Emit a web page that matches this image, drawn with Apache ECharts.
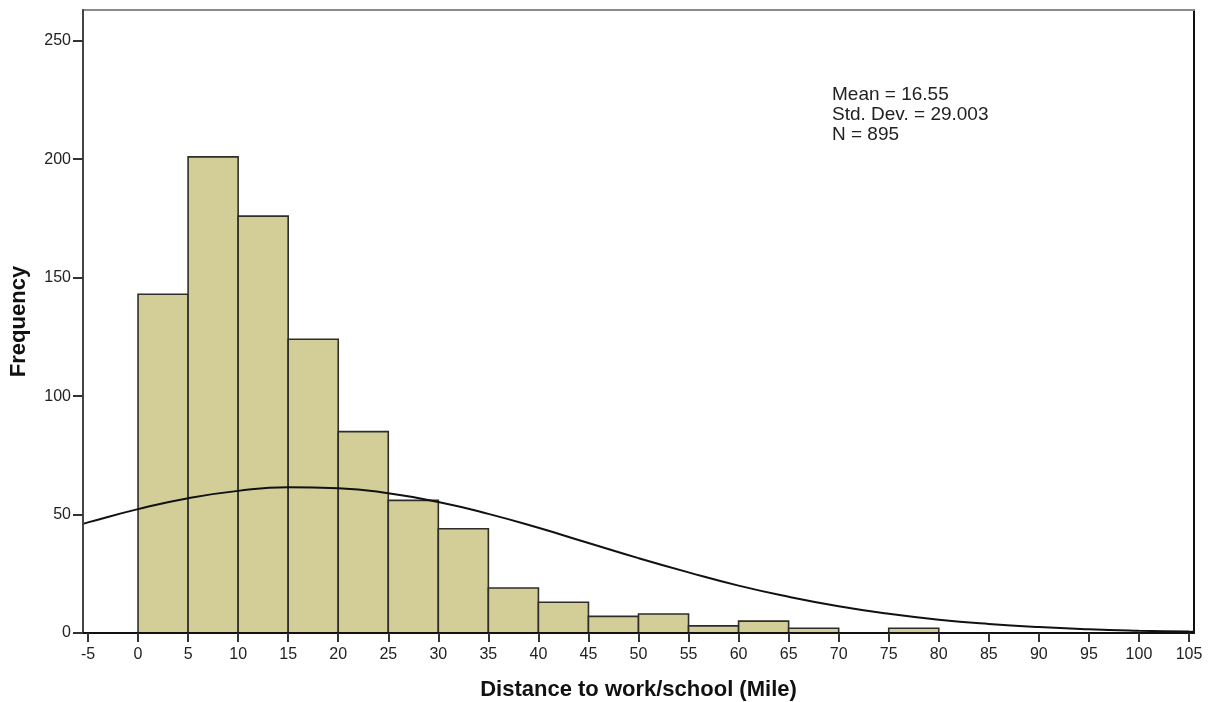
<!DOCTYPE html>
<html>
<head>
<meta charset="utf-8">
<title>Distance to work/school</title>
<script src="https://cdn.jsdelivr.net/npm/echarts@6/dist/echarts.min.js"></script>
<style>
  html, body { margin: 0; padding: 0; background: #fff; }
  #chart { width: 1208px; height: 702px; }
</style>
</head>
<body>
<div id="chart"></div>
<script>
// Histogram bins (5-mile width) and their frequencies
const binStarts = [0, 5, 10, 15, 20, 25, 30, 35, 40, 45, 50, 55, 60, 65, 70, 75];
const binWidth = 5;
const counts = [143, 201, 176, 124, 85, 56, 44, 19, 13, 7, 8, 3, 5, 2, 0, 2];

// Fitted normal curve, sampled along the distance axis
const curveX = [-5.5, -5, 0, 5, 10, 15, 20, 25, 30, 35, 40, 45, 50, 55, 60, 65, 70, 75, 80, 85, 90, 95, 100, 105, 105.5];
const curveY = [46.1, 46.7, 52.3, 56.9, 60.0, 61.5, 61.1, 59.0, 55.3, 50.3, 44.4, 38.0, 31.6, 25.6, 20.0, 15.3, 11.3, 8.1, 5.6, 3.8, 2.5, 1.6, 1.0, 0.6, 0.57];

// Axis ticks
const xTicks = [-5, 0, 5, 10, 15, 20, 25, 30, 35, 40, 45, 50, 55, 60, 65, 70, 75, 80, 85, 90, 95, 100, 105];
const yTicks = [0, 50, 100, 150, 200, 250];

// Summary statistics
const statLines = ['Mean = 16.55', 'Std. Dev. = 29.003', 'N = 895'];

const FONT = '"Liberation Sans", Arial, sans-serif';

const barData = binStarts.map((s, i) => [s, s + binWidth, counts[i]]);
const curveData = curveX.map((x, i) => [x, curveY[i]]);

const chart = echarts.init(document.getElementById('chart'), null, { renderer: 'canvas' });

chart.setOption({
  backgroundColor: '#ffffff',
  animation: false,
  grid: { left: 83, right: 14, top: 10, bottom: 69, containLabel: false, outerBoundsMode: 'none' },
  xAxis: [
    {
      type: 'value',
      min: -5.5,
      max: 105.5,
      name: 'Distance to work/school (Mile)',
      nameLocation: 'middle',
      nameGap: 46,
      nameTextStyle: { fontFamily: FONT, fontSize: 22, fontWeight: 'bold', color: '#111' },
      axisLine: { show: true, onZero: false, lineStyle: { color: '#111', width: 2 } },
      axisTick: { show: true, customValues: xTicks, length: 9, lineStyle: { color: '#333', width: 2 } },
      axisLabel: {
        customValues: xTicks,
        fontFamily: FONT, fontSize: 16, color: '#222', margin: 14
      },
      splitLine: { show: false },
      z: 5
    },
    {
      type: 'value',
      position: 'top',
      min: -5.5,
      max: 105.5,
      axisLine: { show: true, onZero: false, lineStyle: { color: '#8a8a8a', width: 2 } },
      axisTick: { show: false },
      axisLabel: { show: false },
      splitLine: { show: false }
    }
  ],
  yAxis: [
    {
      type: 'value',
      min: 0,
      max: 263,
      name: 'Frequency',
      nameLocation: 'middle',
      nameGap: 53,
      nameRotate: 90,
      nameTextStyle: { fontFamily: FONT, fontSize: 22, fontWeight: 'bold', color: '#111' },
      axisLine: { show: true, onZero: false, lineStyle: { color: '#444', width: 2 } },
      axisTick: { show: true, customValues: yTicks, length: 10, lineStyle: { color: '#333', width: 2 } },
      axisLabel: {
        customValues: yTicks,
        fontFamily: FONT, fontSize: 16, color: '#222', margin: 12
      },
      splitLine: { show: false },
      z: 5
    },
    {
      type: 'value',
      position: 'right',
      min: 0,
      max: 263,
      axisLine: { show: true, onZero: false, lineStyle: { color: '#111', width: 2 } },
      axisTick: { show: false },
      axisLabel: { show: false },
      splitLine: { show: false }
    }
  ],
  series: [
    {
      type: 'custom',
      name: 'Frequency',
      xAxisIndex: 0,
      yAxisIndex: 0,
      data: barData,
      encode: { x: [0, 1], y: 2 },
      renderItem: function (params, api) {
        const h = api.value(2);
        if (!h) return null;
        const p0 = api.coord([api.value(0), h]);
        const p1 = api.coord([api.value(1), 0]);
        return {
          type: 'rect',
          shape: { x: p0[0], y: p0[1], width: p1[0] - p0[0], height: p1[1] - p0[1] },
          style: { fill: '#d3ce98', stroke: '#2e2e2a', lineWidth: 1.6 }
        };
      },
      z: 2
    },
    {
      type: 'line',
      name: 'Normal',
      xAxisIndex: 0,
      yAxisIndex: 0,
      data: curveData,
      smooth: true,
      showSymbol: false,
      symbol: 'none',
      lineStyle: { color: '#111', width: 2 },
      z: 3
    }
  ],
  graphic: [
    {
      type: 'text',
      left: 832,
      top: 85,
      style: {
        text: statLines.join('\n'),
        font: '19px ' + FONT,
        lineHeight: 20,
        fill: '#222'
      },
      z: 10
    }
  ]
});
</script>
</body>
</html>
